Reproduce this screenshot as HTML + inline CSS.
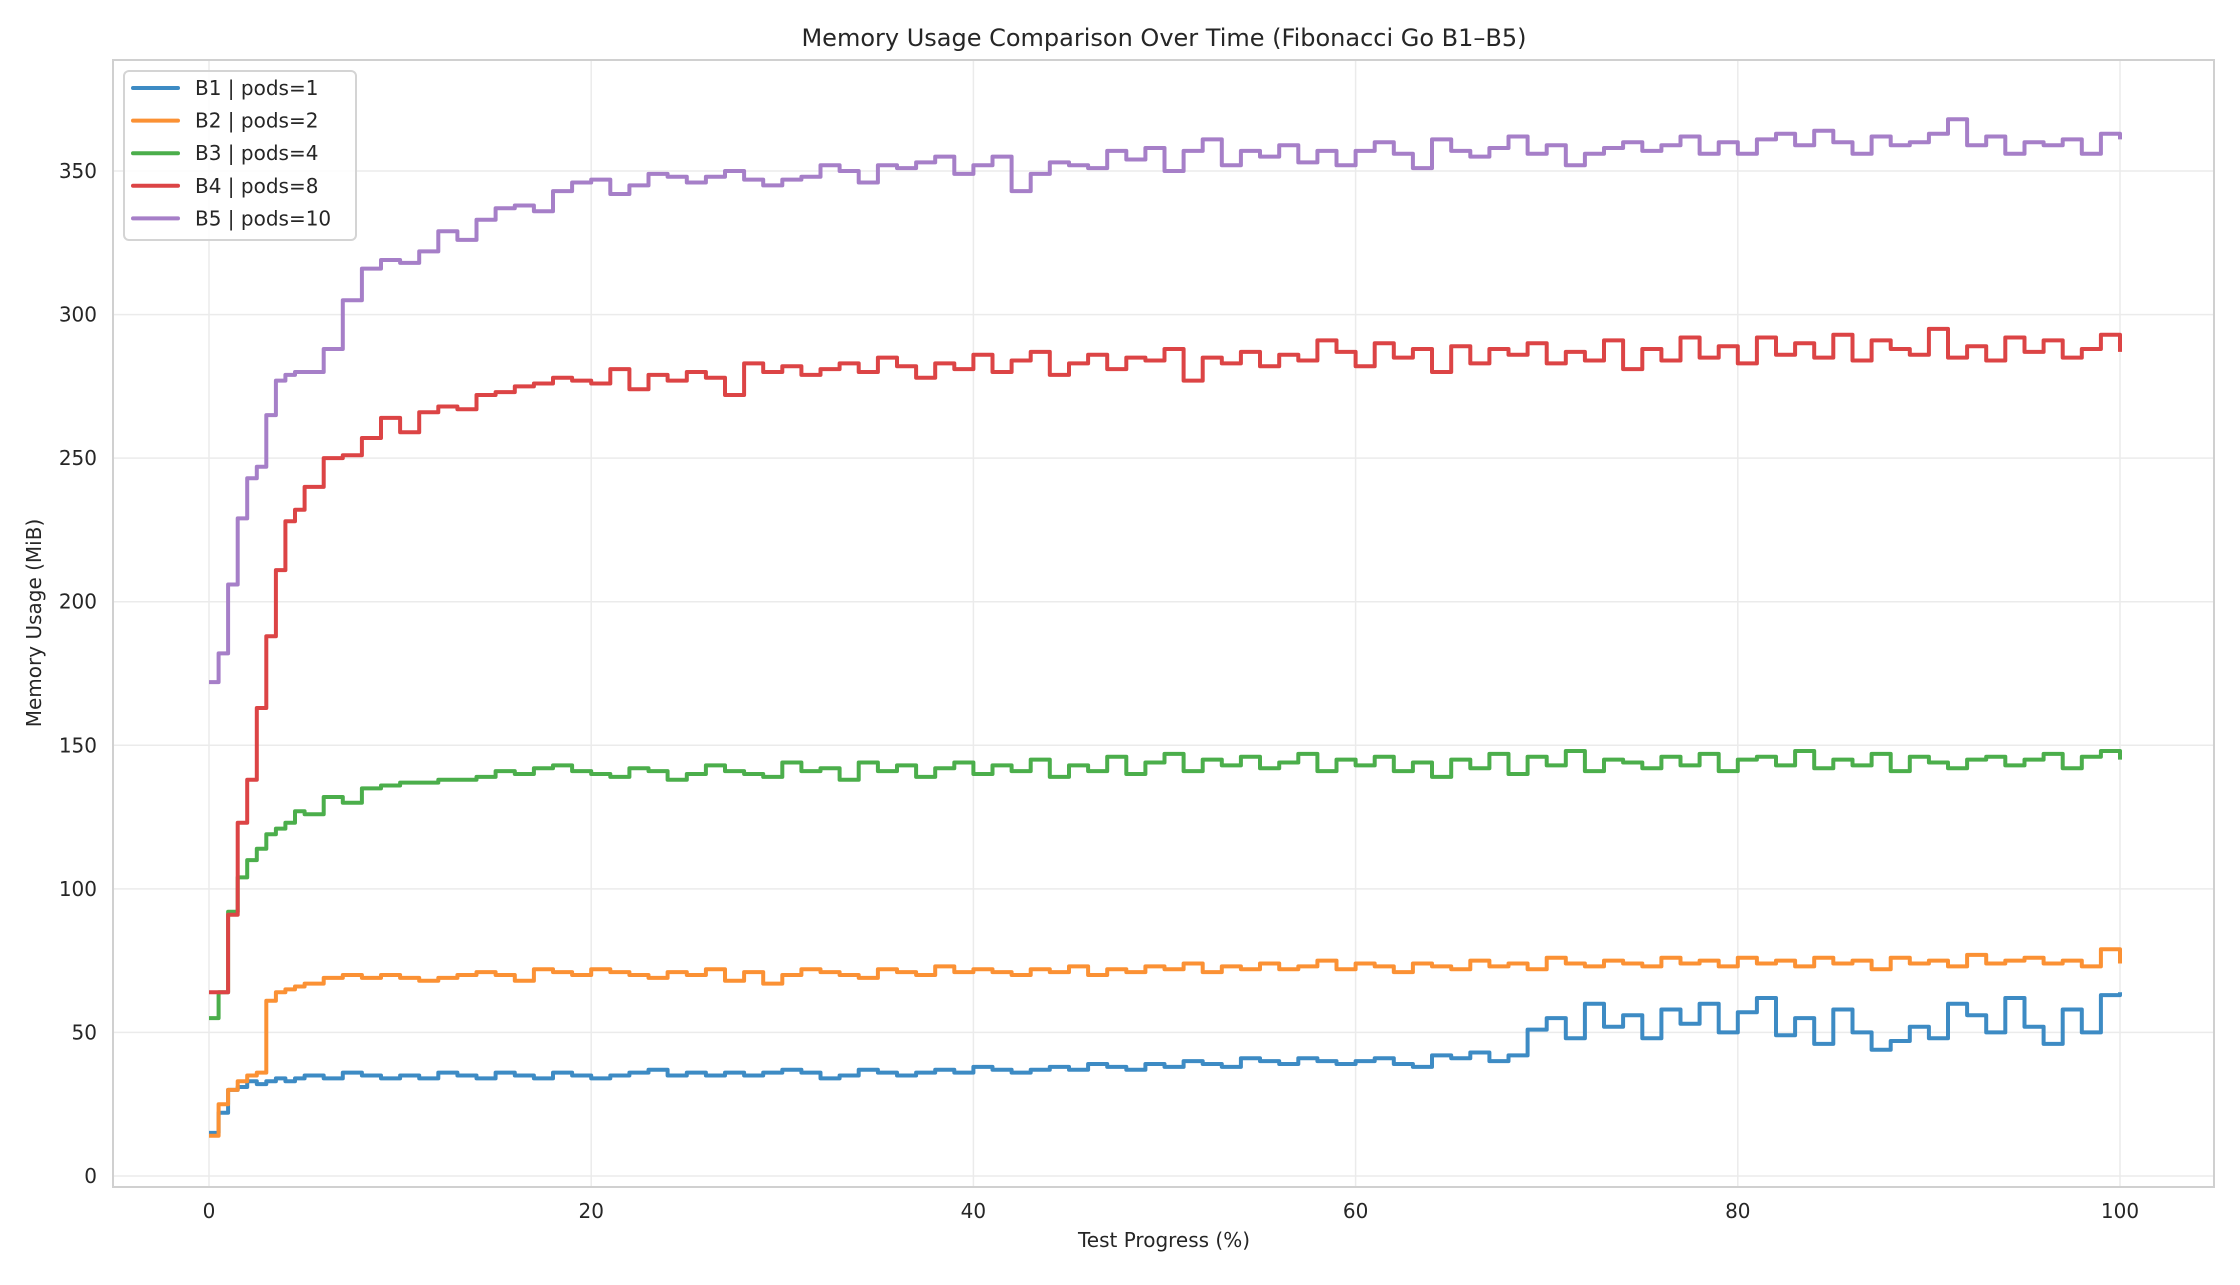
<!DOCTYPE html>
<html><head><meta charset="utf-8"><style>
body{margin:0;background:#fff;font-family:"Liberation Sans","DejaVu Sans",sans-serif;}
svg text{font-family:"DejaVu Sans","Liberation Sans",sans-serif;fill:#262626;}
</style></head><body>
<svg id="chart" width="2240" height="1280" viewBox="0 0 2240 1280" xmlns="http://www.w3.org/2000/svg">
<rect width="2240" height="1280" fill="#fff"/>
<text x="1164" y="46" font-size="24" text-anchor="middle">Memory Usage Comparison Over Time (Fibonacci Go B1–B5)</text>
<g id="grid"></g>
<rect x="113" y="60" width="2101" height="1127" fill="none" stroke="#d0d0d0" stroke-width="2"/>
<g id="series"></g>
<g id="ticks"></g>
<text x="1164" y="1247" font-size="20" text-anchor="middle">Test Progress (%)</text>
<text transform="translate(41,623) rotate(-90)" font-size="20" text-anchor="middle">Memory Usage (MiB)</text>
<g id="legend"></g>
</svg>
<script>
const xs=[0,0.5,1,1.5,2,2.5,3,3.5,4,4.5];
for(let i=5;i<=100;i++)xs.push(i);
const seriesNames=["B1 | pods=1","B2 | pods=2","B3 | pods=4","B4 | pods=8","B5 | pods=10"];
const colors=["#3d8bc4","#fb9134","#4bae4b","#dc4445","#a67fc8"];
const b1=[15,22,30,31,33,32,33,34,33,34,35,34,36,35,34,35,34,36,35,34,36,35,34,36,35,34,35,36,37,35,36,35,36,35,36,37,36,34,35,37,36,35,36,37,36,38,37,36,37,38,37,39,38,37,39,38,40,39,38,41,40,39,41,40,39,40,41,39,38,42,41,43,40,42,51,55,48,60,52,56,48,58,53,60,50,57,62,49,55,46,58,50,44,47,52,48,60,56,50,62,52,46,58,50,63,64];
const b2=[14,25,30,33,35,36,61,64,65,66,67,69,70,69,70,69,68,69,70,71,70,68,72,71,70,72,71,70,69,71,70,72,68,71,67,70,72,71,70,69,72,71,70,73,71,72,71,70,72,71,73,70,72,71,73,72,74,71,73,72,74,72,73,75,72,74,73,71,74,73,72,75,73,74,72,76,74,73,75,74,73,76,74,75,73,76,74,75,73,76,74,75,72,76,74,75,73,77,74,75,76,74,75,73,79,74];
const b3=[55,64,92,104,110,114,119,121,123,127,126,132,130,135,136,137,137,138,138,139,141,140,142,143,141,140,139,142,141,138,140,143,141,140,139,144,141,142,138,144,141,143,139,142,144,140,143,141,145,139,143,141,146,140,144,147,141,145,143,146,142,144,147,141,145,143,146,141,144,139,145,142,147,140,146,143,148,141,145,144,142,146,143,147,141,145,146,143,148,142,145,143,147,141,146,144,142,145,146,143,145,147,142,146,148,145];
const b4=[64,64,91,123,138,163,188,211,228,232,240,250,251,257,264,259,266,268,267,272,273,275,276,278,277,276,281,274,279,277,280,278,272,283,280,282,279,281,283,280,285,282,278,283,281,286,280,284,287,279,283,286,281,285,284,288,277,285,283,287,282,286,284,291,287,282,290,285,288,280,289,283,288,286,290,283,287,284,291,281,288,284,292,285,289,283,292,286,290,285,293,284,291,288,286,295,285,289,284,292,287,291,285,288,293,287];
const b5=[172,182,206,229,243,247,265,277,279,280,280,288,305,316,319,318,322,329,326,333,337,338,336,343,346,347,342,345,349,348,346,348,350,347,345,347,348,352,350,346,352,351,353,355,349,352,355,343,349,353,352,351,357,354,358,350,357,361,352,357,355,359,353,357,352,357,360,356,351,361,357,355,358,362,356,359,352,356,358,360,357,359,362,356,360,356,361,363,359,364,360,356,362,359,360,363,368,359,362,356,360,359,361,356,363,361];
const allSeries=[b1,b2,b3,b4,b5];
const xTicks=[0,20,40,60,80,100];
const yTicks=[0,50,100,150,200,250,300,350];
const NS="http://www.w3.org/2000/svg";
const X=v=>209+(2120-209)*v/100;
const Y=v=>1176-(1176-171)*v/350;
function mk(t,a,p){const e=document.createElementNS(NS,t);for(const k in a)e.setAttribute(k,a[k]);p.appendChild(e);return e;}
const grid=document.getElementById('grid'),ticks=document.getElementById('ticks');
xTicks.forEach(v=>{
 const l=mk('line',{x1:X(v),x2:X(v),y1:60,y2:1187,stroke:'#ebebeb','stroke-width':1.5},grid);
 
 
 const t=mk('text',{x:X(v),y:1218,'font-size':20,'text-anchor':'middle'},ticks);t.textContent=v;
 
 
});
yTicks.forEach(v=>{
 const l=mk('line',{x1:113,x2:2214,y1:Y(v),y2:Y(v),stroke:'#ebebeb','stroke-width':1.5},grid);
 
 
 const t=mk('text',{x:97,y:Y(v)+7,'font-size':20,'text-anchor':'end'},ticks);t.textContent=v;
 
 
});
const sg=document.getElementById('series');
allSeries.forEach((s,i)=>{
 let d='M'+X(xs[0])+','+Y(s[0]);
 for(let j=1;j<s.length;j++){d+=' H'+X(xs[j]).toFixed(1)+' V'+Y(s[j]).toFixed(1);}
 const p=mk('path',{d:d,fill:'none',stroke:colors[i],'stroke-width':4,'stroke-linejoin':'round'},sg);
 
 
});
const lg=document.getElementById('legend');
const box=mk('rect',{x:124,y:71,width:232,height:169,rx:5,fill:'#fff','fill-opacity':0.85,stroke:'#d4d4d4','stroke-width':2},lg);


seriesNames.forEach((n,i)=>{
 const y=88+i*32.6;
 const l=mk('line',{x1:133,x2:178,y1:y,y2:y,stroke:colors[i],'stroke-width':4,'stroke-linecap':'round'},lg);
 
 
 const t=mk('text',{x:195,y:y+7,'font-size':20},lg);t.textContent=n;
 
 
});
</script>
</body></html>
